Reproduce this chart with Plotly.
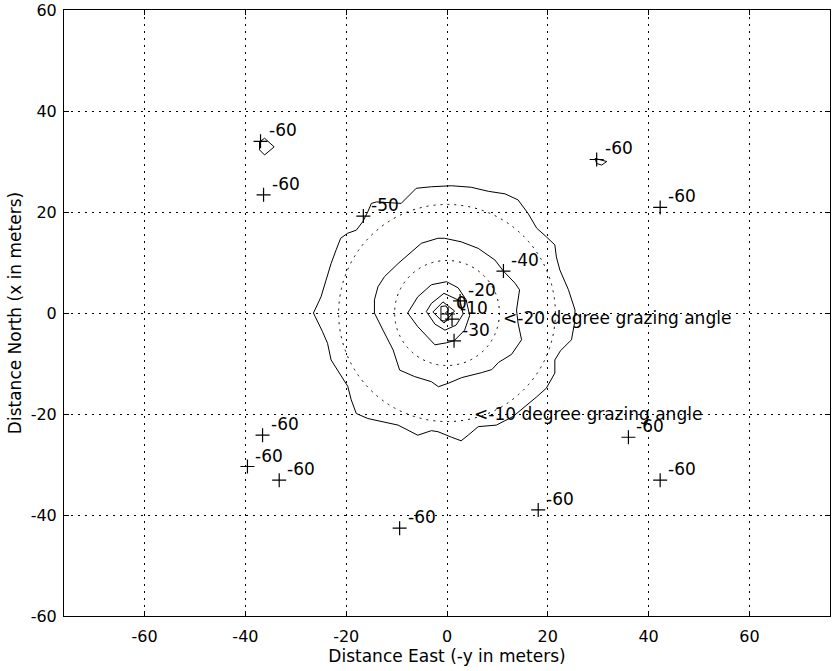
import plotly.graph_objects as go

# ---- data ----
X_TICKS = [-60, -40, -20, 0, 20, 40, 60]
Y_TICKS = [-60, -40, -20, 0, 20, 40, 60]

# contour lines (dB levels), traced vertices
C50_X = [-26.5, -25.0, -24.0, -23.0, -22.0, -21.1, -19.7, -18.0, -16.7, -16.0, -15.7, -15.0, -14.0, -9.1, -6.1,
         -3.1, 0.9, 4.8, 8.2, 11.5, 14.1, 16.1, 17.8, 19.7, 21.4, 21.7, 22.4, 24.1, 25.4, 25.3, 24.7, 22.5,
         21.4, 21.4, 19.7, 17.8, 15.4, 13.1, 9.8, 6.2, 4.2, 2.8, 0.9, -1.8, -3.1, -5.8, -9.7, -13.1, -15.7,
         -18.0, -19.0, -19.7, -21.7, -23.0, -23.7, -24.7, -26.5]
C50_Y = [0.0, 3.2, 6.5, 9.8, 12.5, 14.8, 15.8, 16.4, 18.1, 19.4, 20.1, 21.7, 22.0, 21.7, 24.7,
         25.0, 25.2, 24.9, 24.1, 23.6, 22.4, 19.7, 16.8, 15.1, 13.5, 11.1, 8.5, 4.6, 0.6, -2.0, -5.3, -7.5,
         -9.3, -11.9, -14.9, -16.6, -18.6, -20.5, -22.2, -22.5, -24.2, -25.3, -24.6, -23.5, -23.3, -24.2, -22.2,
         -21.5, -20.9, -19.9, -17.2, -14.5, -11.3, -9.3, -6.0, -3.7, 0.0]

C40_X = [11.2, 9.5, 6.2, 2.8, -0.5, -1.8, -5.1, -7.1, -9.7, -12.4, -13.7, -14.4, -14.4, -12.7, -10.7, -9.4,
         -6.4, -3.1, -1.7, 0.3, 2.9, 6.9, 8.9, 10.2, 12.8, 14.8, 14.1, 13.8, 14.4, 13.5, 11.2]
C40_Y = [8.3, 10.5, 12.8, 14.1, 14.8, 14.8, 13.8, 12.1, 9.8, 7.2, 5.2, 2.6, 0.0, -3.4, -7.3, -11.3,
         -12.6, -13.6, -14.6, -13.9, -12.8, -11.8, -11.2, -9.8, -8.2, -5.3, -2.0, 0.6, 4.6, 5.9, 8.3]

C30_X = [-0.1, -3.1, -5.8, -7.8, -5.8, -3.6, -2.4, -0.1, 1.4, 3.5, 4.5, 3.8, 2.2, -0.1]
C30_Y = [6.2, 5.6, 3.2, 0.0, -2.7, -4.9, -6.3, -5.9, -5.5, -3.4, -0.5, 2.6, 5.0, 6.2]

C20_X = [-0.6, -3.1, -4.1, -2.4, -0.4, 1.8, 3.2, 2.6, -0.6]
C20_Y = [3.9, 1.9, 0.3, -2.2, -3.4, -2.4, -0.2, 2.4, 3.9]

C10_X = [-2.8, -0.8, 1.5, -0.6, -2.8]
C10_Y = [0.2, 2.2, 0.4, -2.0, 0.2]

C0_X = [-1.2, -0.2, 0.3, -0.3, 0.4, -0.1, -1.2, -1.2]
C0_Y = [1.3, 1.4, 0.6, 0.0, -0.7, -1.6, -1.5, 1.3]

C60A_X = [-37.2, -36.2, -34.3, -36.2, -37.2, -37.2]
C60A_Y = [33.9, 34.6, 32.9, 31.3, 32.3, 33.9]
C60B_X = [29.4, 31.7, 30.7, 29.7, 29.4]
C60B_Y = [30.6, 30.0, 29.3, 29.6, 30.6]

# contour label markers ("+") and their level text
LABEL_X = [-37.0, -36.4, 29.7, 42.3, -36.6, -39.6, -33.3, -9.4, 36.0, 42.3, 18.1,
           -16.6, 11.2, 1.4, 2.6, 0.2, 1.0]
LABEL_Y = [34.0, 23.4, 30.4, 20.9, -24.2, -30.4, -33.1, -42.6, -24.6, -33.1, -39.0,
           19.2, 8.3, -5.5, 2.4, -0.2, -1.2]
LABEL_TEXT = ["-60", "-60", "-60", "-60", "-60", "-60", "-60", "-60", "-60", "-60", "-60",
              "-50", "-40", "-30", "-20", "0", "-10"]

# grazing-angle circles
GRAZING_RADII = [10.4, 21.5]
GRAZING_TEXT = ["<-20 degree grazing angle", "<-10 degree grazing angle"]
GRAZING_TEXT_X = [10.8, 5.0]
GRAZING_TEXT_Y = [-1.0, -19.9]

FONT = "DejaVu Sans"
DOT = "2px,5px"

fig = go.Figure()

for cx, cy in [(C50_X, C50_Y), (C40_X, C40_Y), (C30_X, C30_Y), (C20_X, C20_Y),
               (C10_X, C10_Y), (C0_X, C0_Y), (C60A_X, C60A_Y), (C60B_X, C60B_Y)]:
    fig.add_trace(go.Scatter(x=cx, y=cy, mode="lines",
                             line=dict(color="black", width=1), hoverinfo="skip",
                             showlegend=False))

fig.add_trace(go.Scatter(x=LABEL_X, y=LABEL_Y, mode="markers",
                         marker=dict(symbol="cross-thin", size=10,
                                     line=dict(color="black", width=1.2)),
                         showlegend=False, hoverinfo="skip"))

for r in GRAZING_RADII:
    fig.add_shape(type="circle", xref="x", yref="y", x0=-r, x1=r, y0=-r, y1=r,
                  line=dict(color="black", width=1, dash=DOT))

for x, y, t in zip(LABEL_X, LABEL_Y, LABEL_TEXT):
    fig.add_annotation(x=x, y=y, text=t, showarrow=False, xanchor="left", yanchor="middle",
                       xshift=6, yshift=11, font=dict(family=FONT, size=17, color="black"))

for x, y, t in zip(GRAZING_TEXT_X, GRAZING_TEXT_Y, GRAZING_TEXT):
    fig.add_annotation(x=x, y=y, text=t, showarrow=False, xanchor="left", yanchor="middle",
                       font=dict(family=FONT, size=17, color="black"))

axis_common = dict(showline=True, linecolor="black", linewidth=1, mirror="ticks",
                   ticks="inside", ticklen=5, tickcolor="black", automargin=False,
                   showgrid=True, gridcolor="black", gridwidth=1, griddash=DOT,
                   zeroline=False, tickfont=dict(family=FONT, size=16, color="black"))

fig.update_xaxes(range=[-76, 76], tickvals=X_TICKS, ticktext=[str(v) for v in X_TICKS],
                 ticklabelstandoff=6,
                 title=dict(text="Distance East (-y in meters)",
                            font=dict(family=FONT, size=17, color="black"), standoff=2),
                 **axis_common)
fig.update_yaxes(range=[-60, 60], tickvals=Y_TICKS, ticktext=[str(v) for v in Y_TICKS],
                 ticklabelstandoff=3,
                 title=dict(text="Distance North (x in meters)",
                            font=dict(family=FONT, size=17, color="black"), standoff=4),
                 **axis_common)

fig.update_layout(width=837, height=671, margin=dict(l=64, r=7, t=10, b=55),
                  plot_bgcolor="white", paper_bgcolor="white", showlegend=False)

fig.write_html("out.html", config={"displayModeBar": False},
               post_script="document.body.style.margin='0';document.body.style.overflow='hidden';")
